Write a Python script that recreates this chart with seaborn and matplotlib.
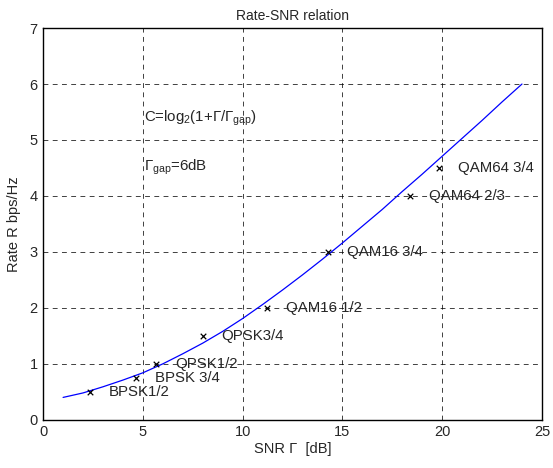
import matplotlib
matplotlib.use("Agg")
import matplotlib.pyplot as plt
import pandas as pd
import seaborn as sns

# Capacity curve (SNR in dB -> rate in bps/Hz)
snr_db = [1, 2, 3, 4, 5, 6, 7, 8, 9, 10, 11, 12, 13, 14, 15, 16, 17, 18,
          19, 20, 21, 22, 23, 24]
rate = [0.40, 0.48, 0.59, 0.71, 0.84, 1.00, 1.18, 1.37, 1.58, 1.81, 2.06,
        2.32, 2.59, 2.87, 3.16, 3.46, 3.76, 4.08, 4.39, 4.71, 5.03, 5.35,
        5.68, 6.00]

# Modulation / coding operating points
modes = ["BPSK1/2", "BPSK 3/4", "QPSK1/2", "QPSK3/4", "QAM16 1/2",
         "QAM16 3/4", "QAM64 2/3", "QAM64 3/4"]
mode_snr = [2.35, 4.65, 5.65, 8.0, 11.2, 14.3, 18.4, 19.85]
mode_rate = [0.5, 0.75, 1.0, 1.5, 2.0, 3.0, 4.0, 4.5]

curve = pd.DataFrame({"snr": snr_db, "rate": rate})
points = pd.DataFrame({"snr": mode_snr, "rate": mode_rate, "mode": modes})

sns.set_style("white")
plt.rcParams["font.family"] = ["Liberation Sans", "DejaVu Sans"]
plt.rcParams["mathtext.fontset"] = "custom"
plt.rcParams["mathtext.rm"] = "Liberation Sans"
plt.rcParams["mathtext.it"] = "Liberation Sans:italic"

fig, ax = plt.subplots(figsize=(5.53, 4.68), dpi=100)
fig.subplots_adjust(left=0.078, right=0.98, top=0.94, bottom=0.103)

sns.lineplot(data=curve, x="snr", y="rate", color="blue", lw=0.9, ax=ax)
sns.scatterplot(data=points, x="snr", y="rate", marker="x", color="black",
                s=16, linewidth=0.9, ax=ax, zorder=3)
for _, r in points.iterrows():
    ax.text(r["snr"] + 0.95, r["rate"], r["mode"], fontsize=10.8,
            va="center", ha="left")

ax.text(5.05, 5.38, "C=log$_2$(1+Γ/Γ$_{\\rm gap}$)", fontsize=10.8, va="center")
ax.text(5.05, 4.52, "Γ$_{\\rm gap}$=6dB", fontsize=10.8, va="center")

ax.set_xlim(0, 25)
ax.set_ylim(0, 7)
ax.set_xticks(range(0, 26, 5))
ax.set_yticks(range(0, 8))
ax.grid(True, color="black", linestyle=(0, (5, 4.5)), linewidth=0.7, alpha=0.75)
for s in ax.spines.values():
    s.set_color("black")
    s.set_linewidth(1.0)
ax.tick_params(length=0, labelsize=10.5, pad=4)
ax.set_xlabel("SNR Γ  [dB]", fontsize=10.5, labelpad=2)
ax.set_ylabel("Rate R bps/Hz", fontsize=10.5, labelpad=6)
ax.set_title("Rate-SNR relation", fontsize=10, pad=6)

fig.savefig("out.png", dpi=100)
